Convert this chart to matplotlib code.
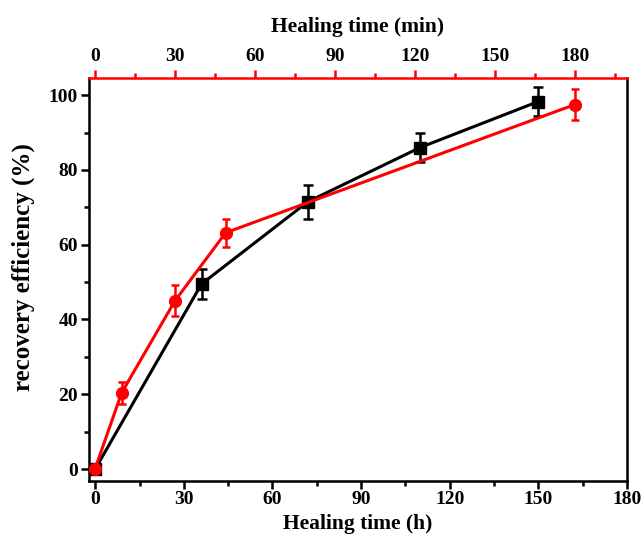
import numpy as np
import matplotlib.pyplot as plt
from matplotlib.ticker import MultipleLocator

plt.rcParams['font.family'] = ['Liberation Serif', 'DejaVu Serif']
plt.rcParams['font.weight'] = 'bold'

# black series, bottom axis (hours)
hours = [0, 36, 72, 110, 150]
eff_h = [0, 49.5, 71.5, 86.0, 98.3]
err_h = [0.5, 4.0, 4.5, 3.9, 4.0]

# red series, top axis (minutes)
minutes = [0, 10, 30, 49, 180]
eff_min = [0, 20.4, 45.0, 63.2, 97.5]
err_min = [0.5, 3.0, 4.2, 3.8, 4.2]

fig = plt.figure(figsize=(6.43, 5.43), dpi=100)
ax = fig.add_axes([0.1384, 0.1142, 0.8366, 0.7422])

# black line
ax.errorbar(hours, eff_h, yerr=err_h, color='black', marker='s', markersize=8.5,
            linewidth=2.2, elinewidth=1.8, capsize=3.3, capthick=1.8, zorder=3)

ax.set_xlim(-2.1, 180)
ax.set_ylim(-3.2, 104.6)
ax.xaxis.set_major_locator(MultipleLocator(30))
ax.xaxis.set_minor_locator(MultipleLocator(15))
ax.yaxis.set_major_locator(MultipleLocator(20))
ax.yaxis.set_minor_locator(MultipleLocator(10))
ax.tick_params(axis='both', which='major', direction='out', length=6, width=1.8,
               labelsize=14)
ax.tick_params(axis='both', which='minor', direction='out', length=3.5, width=1.8)
ax.tick_params(axis='y', pad=2)
ax.tick_params(axis='x', pad=1.5)
ax.tick_params(right=False, top=False)
for s in ax.spines.values():
    s.set_linewidth(1.8)
ax.set_xlabel('Healing time (h)', fontsize=15.5, fontweight='bold', labelpad=4)
ax.set_ylabel('recovery efficiency (%)', fontsize=18, fontweight='bold')
ax.yaxis.set_label_coords(-0.100, 0.53)

# top axis in red
ax2 = ax.twiny()
ax2.errorbar(minutes, eff_min, yerr=err_min, color='red', marker='o', markersize=8.5,
             linewidth=2.2, elinewidth=1.8, capsize=3, capthick=1.8, zorder=4)
ax2.set_xlim(-2.25, 199.5)
ax2.xaxis.set_major_locator(MultipleLocator(30))
ax2.xaxis.set_minor_locator(MultipleLocator(15))
ax2.tick_params(axis='x', which='major', direction='out', length=6, width=1.8,
                labelsize=14, colors='red', labelcolor='black', pad=3)
ax2.tick_params(axis='x', which='minor', direction='out', length=3.5, width=1.8,
                colors='red')
ax2.spines['top'].set_color('red')
ax2.spines['top'].set_linewidth(1.8)
ax.spines['top'].set_visible(False)
ax2.set_xlabel('Healing time (min)', fontsize=15.5, fontweight='bold', labelpad=12)
for lab in ax.get_xticklabels() + ax.get_yticklabels() + ax2.get_xticklabels():
    lab.set_fontweight('bold')

fig.savefig('out.png', dpi=100)
